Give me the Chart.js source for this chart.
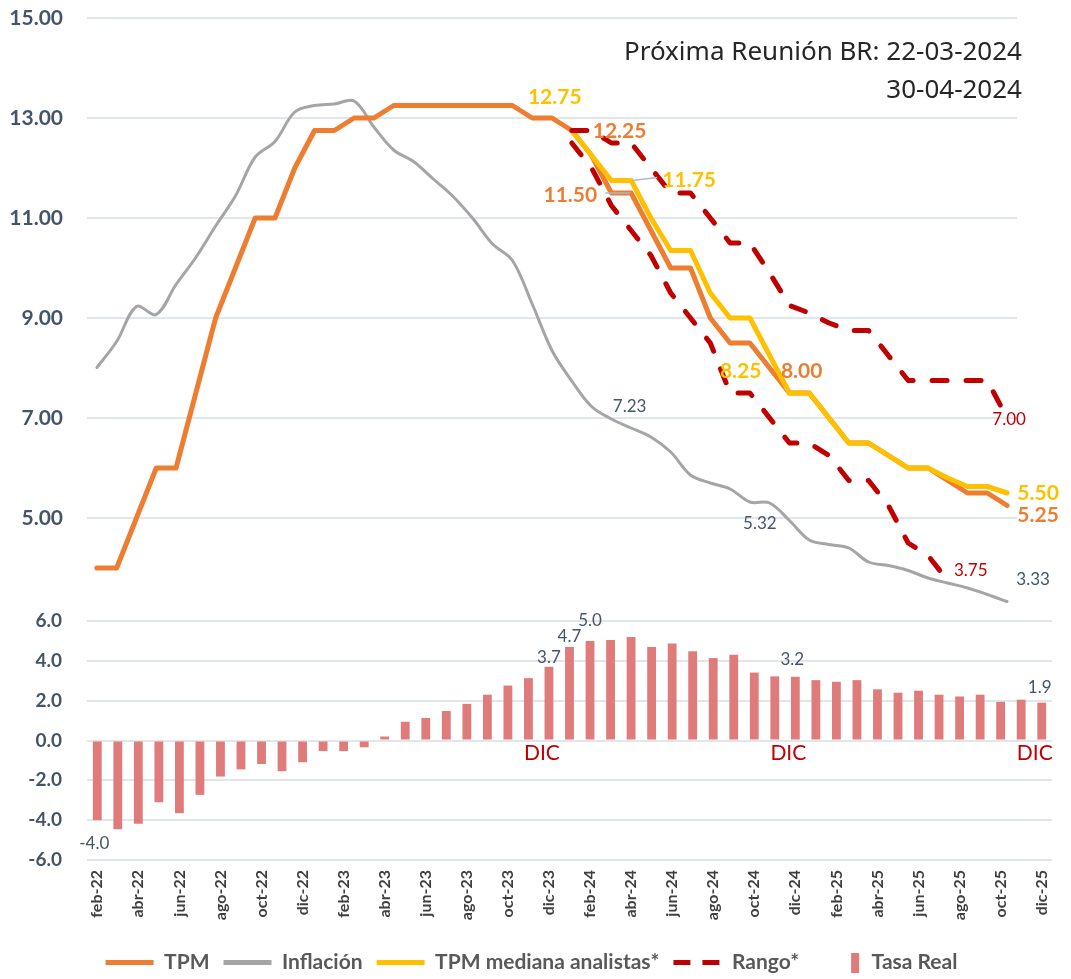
<!DOCTYPE html>
<html>
<head>
<meta charset="utf-8">
<title>TPM, inflación y tasa real</title>
<script src="https://cdn.jsdelivr.net/npm/chart.js@4.4.1/dist/chart.umd.min.js"></script>
<style>
  html, body { margin: 0; padding: 0; background: #fff; }
  #wrap { position: relative; width: 1071px; height: 979px; overflow: hidden; }
  #wrap canvas { position: absolute; left: 0; top: 0; }
  #nota {
    position: absolute; right: 49px; top: 31px; text-align: right;
    font-family: "Noto Sans", "Open Sans", sans-serif; font-size: 26px;
    line-height: 38px; color: #262626;
  }
</style>
</head>
<body>
<div id="wrap">
  <canvas id="barras" width="1071" height="979"></canvas>
  <canvas id="lineas" width="1071" height="979"></canvas>
  <div id="nota">Próxima Reunión BR: 22-03-2024<br>30-04-2024</div>
</div>
<script>
// Meses (feb-22 a dic-25)
const meses = [
  'feb-22','mar-22','abr-22','may-22','jun-22','jul-22','ago-22','sep-22','oct-22','nov-22','dic-22',
  'ene-23','feb-23','mar-23','abr-23','may-23','jun-23','jul-23','ago-23','sep-23','oct-23','nov-23','dic-23',
  'ene-24','feb-24','mar-24','abr-24','may-24','jun-24','jul-24','ago-24','sep-24','oct-24','nov-24','dic-24',
  'ene-25','feb-25','mar-25','abr-25','may-25','jun-25','jul-25','ago-25','sep-25','oct-25','nov-25','dic-25'
];

// Series del panel superior
const tpm = [4.00, 4.00, 5.00, 6.00, 6.00, 7.50, 9.00, 10.00, 11.00, 11.00, 12.00,
  12.75, 12.75, 13.00, 13.00, 13.25, 13.25, 13.25, 13.25, 13.25, 13.25, 13.25, 13.00,
  13.00, 12.75, 12.25, 11.50, 11.50, 10.75, 10.00, 10.00, 9.00, 8.50, 8.50, 8.00,
  7.50, 7.50, 7.00, 6.50, 6.50, 6.25, 6.00, 6.00, 5.75, 5.50, 5.50, 5.25];
const inflacion = [8.01, 8.53, 9.23, 9.07, 9.67, 10.21, 10.84, 11.44, 12.22, 12.53, 13.12,
  13.25, 13.28, 13.34, 12.82, 12.36, 12.13, 11.78, 11.43, 10.99, 10.48, 10.15, 9.28,
  8.35, 7.74, 7.23, 6.98, 6.80, 6.62, 6.32, 5.86, 5.70, 5.58, 5.32, 5.30,
  4.95, 4.56, 4.47, 4.40, 4.12, 4.05, 3.95, 3.80, 3.70, 3.60, 3.47, 3.33];
// proyecciones: empiezan en feb-24
const inicioProy = 'feb-24';
const tpmMediana = [12.75, 12.25, 11.75, 11.75, 11.00, 10.35, 10.35, 9.50, 9.00, 9.00, 8.25,
  7.50, 7.50, 7.00, 6.50, 6.50, 6.25, 6.00, 6.00, 5.80, 5.63, 5.63, 5.50];
const rangoSup = [12.75, 12.75, 12.50, 12.50, 12.00, 11.50, 11.50, 11.00, 10.50, 10.50, 9.90,
  9.25, 9.10, 8.90, 8.75, 8.75, 8.25, 7.75, 7.75, 7.75, 7.75, 7.75, 7.00];
const rangoInf = [12.50, 12.00, 11.25, 10.75, 10.25, 9.50, 9.00, 8.50, 7.50, 7.50, 7.00,
  6.50, 6.50, 6.25, 5.75, 5.75, 5.25, 4.50, 4.25, 3.75];

// Panel inferior
const tasaReal = [-4.0, -4.45, -4.18, -3.1, -3.65, -2.73, -1.81, -1.45, -1.18, -1.54, -1.09,
  -0.53, -0.53, -0.34, 0.2, 0.94, 1.13, 1.48, 1.84, 2.3, 2.76, 3.13, 3.7,
  4.7, 5.0, 5.05, 5.2, 4.69, 4.87, 4.48, 4.14, 4.31, 3.41, 3.22, 3.2,
  3.03, 2.95, 3.03, 2.57, 2.4, 2.5, 2.3, 2.21, 2.3, 1.94, 2.05, 1.9];
const marcasDic = ['dic-23', 'dic-24', 'dic-25'];

// Ejes
const ticksLineas = [5, 7, 9, 11, 13, 15];
const minLineas = 3;
const ticksBarras = [-6, -4, -2, 0, 2, 4, 6];

const COLOR_GRID = '#E1E5EC';
const COLOR_EJE = '#44546A';

// alinea una proyección con los meses
function alinear(serie) {
  const k = meses.indexOf(inicioProy);
  return meses.map((m, i) => (i >= k && i - k < serie.length) ? serie[i - k] : null);
}

// ancho fijo del eje Y, sin que el padding de las etiquetas empuje el área
function fijarEjeY(s) {
  s.width = 87;
  s.paddingTop = 0;
  s.paddingBottom = 0;
}

// Etiquetas de datos
const etiquetas = {
  id: 'etiquetas',
  afterDatasetsDraw(chart, args, opts) {
    const ctx = chart.ctx;
    (opts.items || []).forEach(it => {
      const idx = chart.data.datasets.findIndex(d => d.label === it.serie);
      const i = meses.indexOf(it.mes);
      const el = chart.getDatasetMeta(idx).data[i];
      const v = chart.data.datasets[idx].data[i];
      if (!el || v == null) return;
      const y0 = it.base ? chart.scales.y.getPixelForValue(0) : el.y;
      ctx.save();
      if (it.guia) {
        ctx.strokeStyle = '#A9B8CC';
        ctx.lineWidth = 1.5;
        ctx.beginPath();
        ctx.moveTo(el.x + it.guia[0], y0 + it.guia[1]);
        ctx.lineTo(el.x + it.guia[2], y0 + it.guia[3]);
        ctx.stroke();
      }
      ctx.font = it.font;
      ctx.fillStyle = it.color;
      ctx.textAlign = 'center';
      ctx.textBaseline = 'middle';
      ctx.fillText(it.texto || v.toFixed(it.dec), el.x + it.dx, y0 + it.dy);
      ctx.restore();
    });
  }
};

const FB = 'bold 21px Lato';
const FR = '17px Lato';
const labelsLineas = [
  { serie: 'TPM mediana analistas*', mes: 'feb-24', dx: -17, dy: -33, dec: 2, color: '#FFC000', font: FB },
  { serie: 'TPM', mes: 'mar-24', dx: 28, dy: -24, dec: 2, color: '#ED7D31', font: FB },
  { serie: 'TPM', mes: 'abr-24', dx: -41, dy: 2, dec: 2, color: '#ED7D31', font: FB, guia: [-6, 0, 19, 0] },
  { serie: 'TPM mediana analistas*', mes: 'may-24', dx: 58, dy: 0, dec: 2, color: '#FFC000', font: FB, guia: [1, 0, 26, -3] },
  { serie: 'TPM mediana analistas*', mes: 'dic-24', dx: -29, dy: 16, dec: 2, color: '#FFC000', font: FB },
  { serie: 'TPM', mes: 'dic-24', dx: 32, dy: 3, dec: 2, color: '#ED7D31', font: FB },
  { serie: 'TPM mediana analistas*', mes: 'dic-25', dx: 31, dy: 0, dec: 2, color: '#FFC000', font: FB },
  { serie: 'TPM', mes: 'dic-25', dx: 31, dy: 10, dec: 2, color: '#ED7D31', font: FB },
  { serie: 'Rango sup', mes: 'dic-25', dx: 2, dy: 2, dec: 2, color: '#C00000', font: FR },
  { serie: 'Rango inf', mes: 'sep-25', dx: 23, dy: -10, dec: 2, color: '#C00000', font: FR },
  { serie: 'Inflación', mes: 'mar-24', dx: 38, dy: 0, dec: 2, color: COLOR_EJE, font: FR },
  { serie: 'Inflación', mes: 'nov-24', dx: 10, dy: 22, dec: 2, color: COLOR_EJE, font: FR },
  { serie: 'Inflación', mes: 'dic-25', dx: 26, dy: -22, dec: 2, color: COLOR_EJE, font: FR }
];
const labelsBarras = [
  { serie: 'Tasa Real', mes: 'feb-22', dx: -3, dy: 23, dec: 1, color: COLOR_EJE, font: FR },
  { serie: 'Tasa Real', mes: 'dic-23', dx: 0, dy: -9, dec: 1, color: COLOR_EJE, font: FR },
  { serie: 'Tasa Real', mes: 'ene-24', dx: 0, dy: -10, dec: 1, color: COLOR_EJE, font: FR },
  { serie: 'Tasa Real', mes: 'feb-24', dx: 0, dy: -20, dec: 1, color: COLOR_EJE, font: FR },
  { serie: 'Tasa Real', mes: 'dic-24', dx: -3, dy: -17, dec: 1, color: COLOR_EJE, font: FR },
  { serie: 'Tasa Real', mes: 'dic-25', dx: -2, dy: -15, dec: 1, color: COLOR_EJE, font: FR }
].concat(marcasDic.map(m => ({
  serie: 'Tasa Real', mes: m, base: true, texto: 'DIC', dx: -7, dy: 13, color: '#C00000', font: '21px Lato'
})));

// Panel superior: líneas
const lineaBase = { pointRadius: 0, borderJoinStyle: 'round', borderCapStyle: 'round', fill: false };
new Chart(document.getElementById('lineas'), {
  type: 'line',
  data: {
    labels: meses,
    datasets: [
      { ...lineaBase, label: 'Rango sup', data: alinear(rangoSup), borderColor: '#C00000', borderWidth: 5, borderDash: [15, 19] },
      { ...lineaBase, label: 'Rango inf', data: alinear(rangoInf), borderColor: '#C00000', borderWidth: 5, borderDash: [15, 19] },
      { ...lineaBase, label: 'TPM mediana analistas*', data: alinear(tpmMediana), borderColor: '#FFC000', borderWidth: 5 },
      { ...lineaBase, label: 'TPM', data: tpm, borderColor: '#ED7D31', borderWidth: 5 },
      { ...lineaBase, label: 'Inflación', data: inflacion, borderColor: '#A5A5A5', borderWidth: 3, tension: 0.35 }
    ]
  },
  options: {
    responsive: false,
    animation: false,
    layout: { padding: { left: 0, right: 54, top: 18, bottom: 361 } },
    plugins: {
      legend: { display: false },
      tooltip: { enabled: false },
      etiquetas: { items: labelsLineas }
    },
    scales: {
      x: { display: false, offset: true },
      y: {
        min: minLineas,
        max: ticksLineas[ticksLineas.length - 1],
        afterBuildTicks: s => { s.ticks = ticksLineas.map(v => ({ value: v })); },
        afterFit: fijarEjeY,
        border: { display: false },
        grid: { color: COLOR_GRID, lineWidth: 2, drawTicks: false },
        ticks: {
          padding: 24,
          color: COLOR_EJE,
          font: { family: 'Lato', weight: 'bold', size: 21 },
          callback: v => Number(v).toFixed(2)
        }
      }
    }
  },
  plugins: [etiquetas]
});

// cuadro de leyenda para Tasa Real
const cuadro = document.createElement('canvas');
cuadro.width = 48;
cuadro.height = 20;
const cx = cuadro.getContext('2d');
cx.fillStyle = '#E07B7B';
cx.fillRect(38, 0, 8, 20);

// Panel inferior: barras + eje + leyenda
new Chart(document.getElementById('barras'), {
  type: 'bar',
  data: {
    labels: meses,
    datasets: [{
      label: 'Tasa Real',
      data: tasaReal,
      backgroundColor: '#E07B7B',
      barPercentage: 0.43,
      categoryPercentage: 1
    }]
  },
  options: {
    responsive: false,
    animation: false,
    layout: { padding: { left: 0, right: 8, top: 621, bottom: -4 } },
    plugins: {
      tooltip: { enabled: false },
      etiquetas: { items: labelsBarras },
      legend: {
        position: 'bottom',
        labels: {
          usePointStyle: true,
          pointStyleWidth: 48,
          padding: 14,
          color: '#595959',
          font: { family: 'Lato', weight: 'bold', size: 21 },
          generateLabels: () => [
            { text: 'TPM', pointStyle: 'line', strokeStyle: '#ED7D31', fillStyle: '#ED7D31', lineWidth: 5, lineDash: [], fontColor: '#595959' },
            { text: 'Inflación', pointStyle: 'line', strokeStyle: '#A5A5A5', fillStyle: '#A5A5A5', lineWidth: 5, lineDash: [], fontColor: '#595959' },
            { text: 'TPM mediana analistas*', pointStyle: 'line', strokeStyle: '#FFC000', fillStyle: '#FFC000', lineWidth: 5, lineDash: [], fontColor: '#595959' },
            { text: 'Rango*', pointStyle: 'line', strokeStyle: '#C00000', fillStyle: '#C00000', lineWidth: 5, lineDash: [17, 12], fontColor: '#595959' },
            { text: 'Tasa Real', pointStyle: cuadro, strokeStyle: '#E07B7B', fillStyle: '#E07B7B', lineWidth: 0, fontColor: '#595959' }
          ]
        }
      }
    },
    scales: {
      x: {
        afterFit: s => { s.height = 78; },
        border: { display: false },
        grid: { display: false, drawTicks: false },
        ticks: {
          autoSkip: false,
          minRotation: 90,
          maxRotation: 90,
          padding: 10,
          color: '#3F3F3F',
          font: { family: 'Lato', weight: 'bold', size: 16 },
          callback: (v, i) => i % 2 === 0 ? meses[i] : ''
        }
      },
      y: {
        min: ticksBarras[0],
        max: ticksBarras[ticksBarras.length - 1],
        afterBuildTicks: s => { s.ticks = ticksBarras.map(v => ({ value: v })); },
        afterFit: fijarEjeY,
        border: { display: false },
        grid: { color: COLOR_GRID, lineWidth: 2, drawTicks: false },
        ticks: {
          padding: 25,
          color: COLOR_EJE,
          font: { family: 'Lato', weight: 'bold', size: 19 },
          callback: v => Number(v).toFixed(1)
        }
      }
    }
  },
  plugins: [etiquetas]
});
</script>
</body>
</html>
